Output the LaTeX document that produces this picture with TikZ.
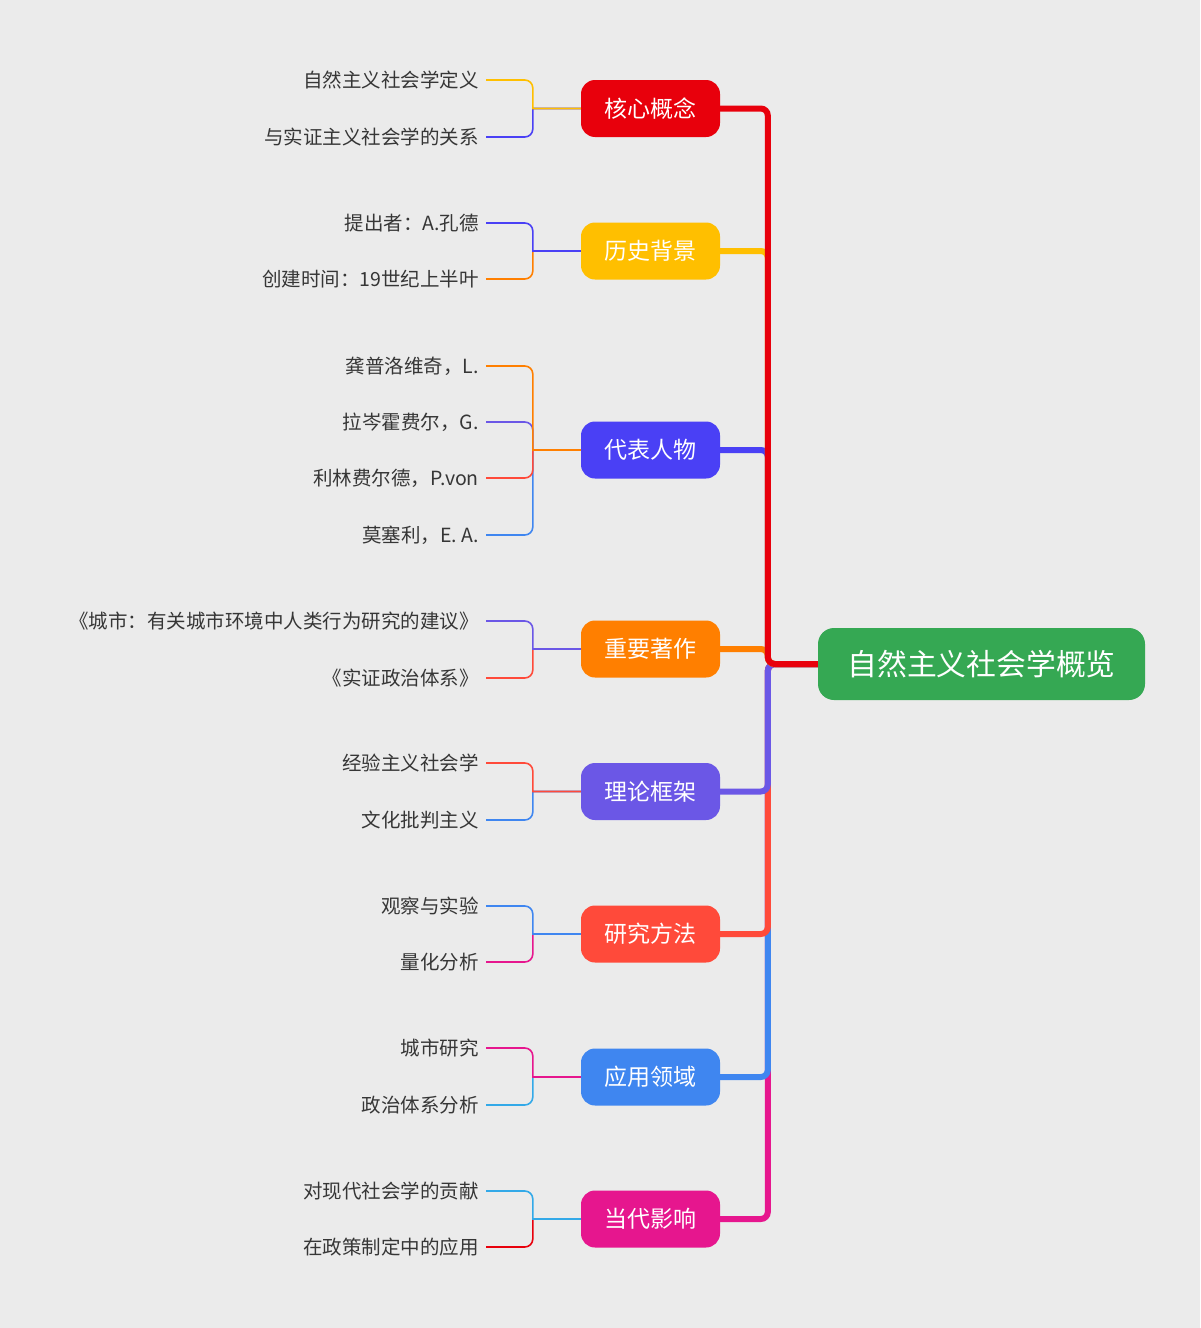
\documentclass[tikz,border=0pt]{standalone}
\usepackage{fontspec}
\setmainfont{Noto Sans CJK SC}
\usepackage{xcolor}

\definecolor{paper}{HTML}{EBEBEB}
\definecolor{leafText}{HTML}{363636}
\definecolor{rootGreen}{HTML}{35A853}
\definecolor{brRed}{HTML}{E8000C}
\definecolor{brYellow}{HTML}{FFBF00}
\definecolor{brIndigo}{HTML}{4A40F5}
\definecolor{brOrange}{HTML}{FF7F00}
\definecolor{brPurple}{HTML}{6B57E6}
\definecolor{brCoral}{HTML}{FF4A3A}
\definecolor{brBlue}{HTML}{3F86F0}
\definecolor{brPink}{HTML}{E6168E}
\definecolor{brSky}{HTML}{33A9E8}

\begin{document}
\begin{tikzpicture}[x=1pt,y=-1pt,
  leaf/.style={anchor=east,inner xsep=7pt,inner ysep=0pt,text=leafText,
    font=\fontsize{19.5}{21}\selectfont},
  branch/.style={rounded corners=14pt,minimum width=139pt,minimum height=57pt,
    inner sep=0pt,text=white,font=\fontsize{23}{25}\selectfont},
  twig/.style={line width=1.6pt},
  limb/.style={line width=6pt,rounded corners=7pt}]
  \useasboundingbox (0,0) rectangle (1200,1328);
  \fill[paper] (0,0) rectangle (1200,1328);

  % root
  \node[fill=rootGreen,rounded corners=16pt,minimum width=327pt,minimum height=72pt,
    text=white,font=\fontsize{29.8}{32}\selectfont] (root) at (981.5,664) {自然主义社会学概览};

  % branches
  \node[branch,fill=brRed]    (b1) at (650.5,108.5) {核心概念};
  \node[branch,fill=brYellow] (b2) at (650.5,251)   {历史背景};
  \node[branch,fill=brIndigo] (b3) at (650.5,450)   {代表人物};
  \node[branch,fill=brOrange] (b4) at (650.5,649)   {重要著作};
  \node[branch,fill=brPurple] (b5) at (650.5,791.5) {理论框架};
  \node[branch,fill=brCoral]  (b6) at (650.5,934)   {研究方法};
  \node[branch,fill=brBlue]   (b7) at (650.5,1077)  {应用领域};
  \node[branch,fill=brPink]   (b8) at (650.5,1219)  {当代影响};

  % leaves
  \node[leaf] (l11) at (486,80)   {自然主义社会学定义};
  \node[leaf] (l12) at (486,137)  {与实证主义社会学的关系};
  \node[leaf] (l21) at (486,223)  {提出者：A.孔德};
  \node[leaf] (l22) at (486,279)  {创建时间：19世纪上半叶};
  \node[leaf] (l31) at (486,366)  {龚普洛维奇，L.};
  \node[leaf] (l32) at (486,422)  {拉岑霍费尔，G.};
  \node[leaf] (l33) at (486,478)  {利林费尔德，P.von};
  \node[leaf] (l34) at (486,535)  {莫塞利，E. A.};
  \node[leaf] (l41) at (486,621)  {《城市：有关城市环境中人类行为研究的建议》};
  \node[leaf] (l42) at (486,678)  {《实证政治体系》};
  \node[leaf] (l51) at (486,763)  {经验主义社会学};
  \node[leaf] (l52) at (486,820)  {文化批判主义};
  \node[leaf] (l61) at (486,906)  {观察与实验};
  \node[leaf] (l62) at (486,962)  {量化分析};
  \node[leaf] (l71) at (486,1048) {城市研究};
  \node[leaf] (l72) at (486,1105) {政治体系分析};
  \node[leaf] (l81) at (486,1191) {对现代社会学的贡献};
  \node[leaf] (l82) at (486,1247) {在政策制定中的应用};

  % root to branches, far ones first
  \draw[limb,brPink]   (root.west) -- ++(-50,0) |- (b8.east);
  \draw[limb,brBlue]   (root.west) -- ++(-50,0) |- (b7.east);
  \draw[limb,brCoral]  (root.west) -- ++(-50,0) |- (b6.east);
  \draw[limb,brPurple] (root.west) -- ++(-50,0) |- (b5.east);
  \draw[limb,brOrange] (root.west) -- ++(-50,0) |- (b4.east);
  \draw[limb,brIndigo] (root.west) -- ++(-50,0) |- (b3.east);
  \draw[limb,brYellow] (root.west) -- ++(-50,0) |- (b2.east);
  \draw[limb,brRed]    (root.west) -- ++(-50,0) |- (b1.east);

  % branches to leaves
  \draw[twig,brIndigo] (b1.west) -- ++(-48,0) [rounded corners=8pt] |- (l12.east);
  \draw[twig,brYellow] (b1.west) -- ++(-48,0) [rounded corners=8pt] |- (l11.east);
  \draw[twig,brOrange] (b2.west) -- ++(-48,0) [rounded corners=8pt] |- (l22.east);
  \draw[twig,brIndigo] (b2.west) -- ++(-48,0) [rounded corners=8pt] |- (l21.east);
  \draw[twig,brBlue]   (b3.west) -- ++(-48,0) [rounded corners=8pt] |- (l34.east);
  \draw[twig,brCoral]  (b3.west) -- ++(-48,0) [rounded corners=8pt] |- (l33.east);
  \draw[twig,brPurple] (b3.west) -- ++(-48,0) [rounded corners=8pt] |- (l32.east);
  \draw[twig,brOrange] (b3.west) -- ++(-48,0) [rounded corners=8pt] |- (l31.east);
  \draw[twig,brCoral]  (b4.west) -- ++(-48,0) [rounded corners=8pt] |- (l42.east);
  \draw[twig,brPurple] (b4.west) -- ++(-48,0) [rounded corners=8pt] |- (l41.east);
  \draw[twig,brBlue]   (b5.west) -- ++(-48,0) [rounded corners=8pt] |- (l52.east);
  \draw[twig,brCoral]  (b5.west) -- ++(-48,0) [rounded corners=8pt] |- (l51.east);
  \draw[twig,brPink]   (b6.west) -- ++(-48,0) [rounded corners=8pt] |- (l62.east);
  \draw[twig,brBlue]   (b6.west) -- ++(-48,0) [rounded corners=8pt] |- (l61.east);
  \draw[twig,brSky]    (b7.west) -- ++(-48,0) [rounded corners=8pt] |- (l72.east);
  \draw[twig,brPink]   (b7.west) -- ++(-48,0) [rounded corners=8pt] |- (l71.east);
  \draw[twig,brRed]    (b8.west) -- ++(-48,0) [rounded corners=8pt] |- (l82.east);
  \draw[twig,brSky]    (b8.west) -- ++(-48,0) [rounded corners=8pt] |- (l81.east);
\end{tikzpicture}
\end{document}
